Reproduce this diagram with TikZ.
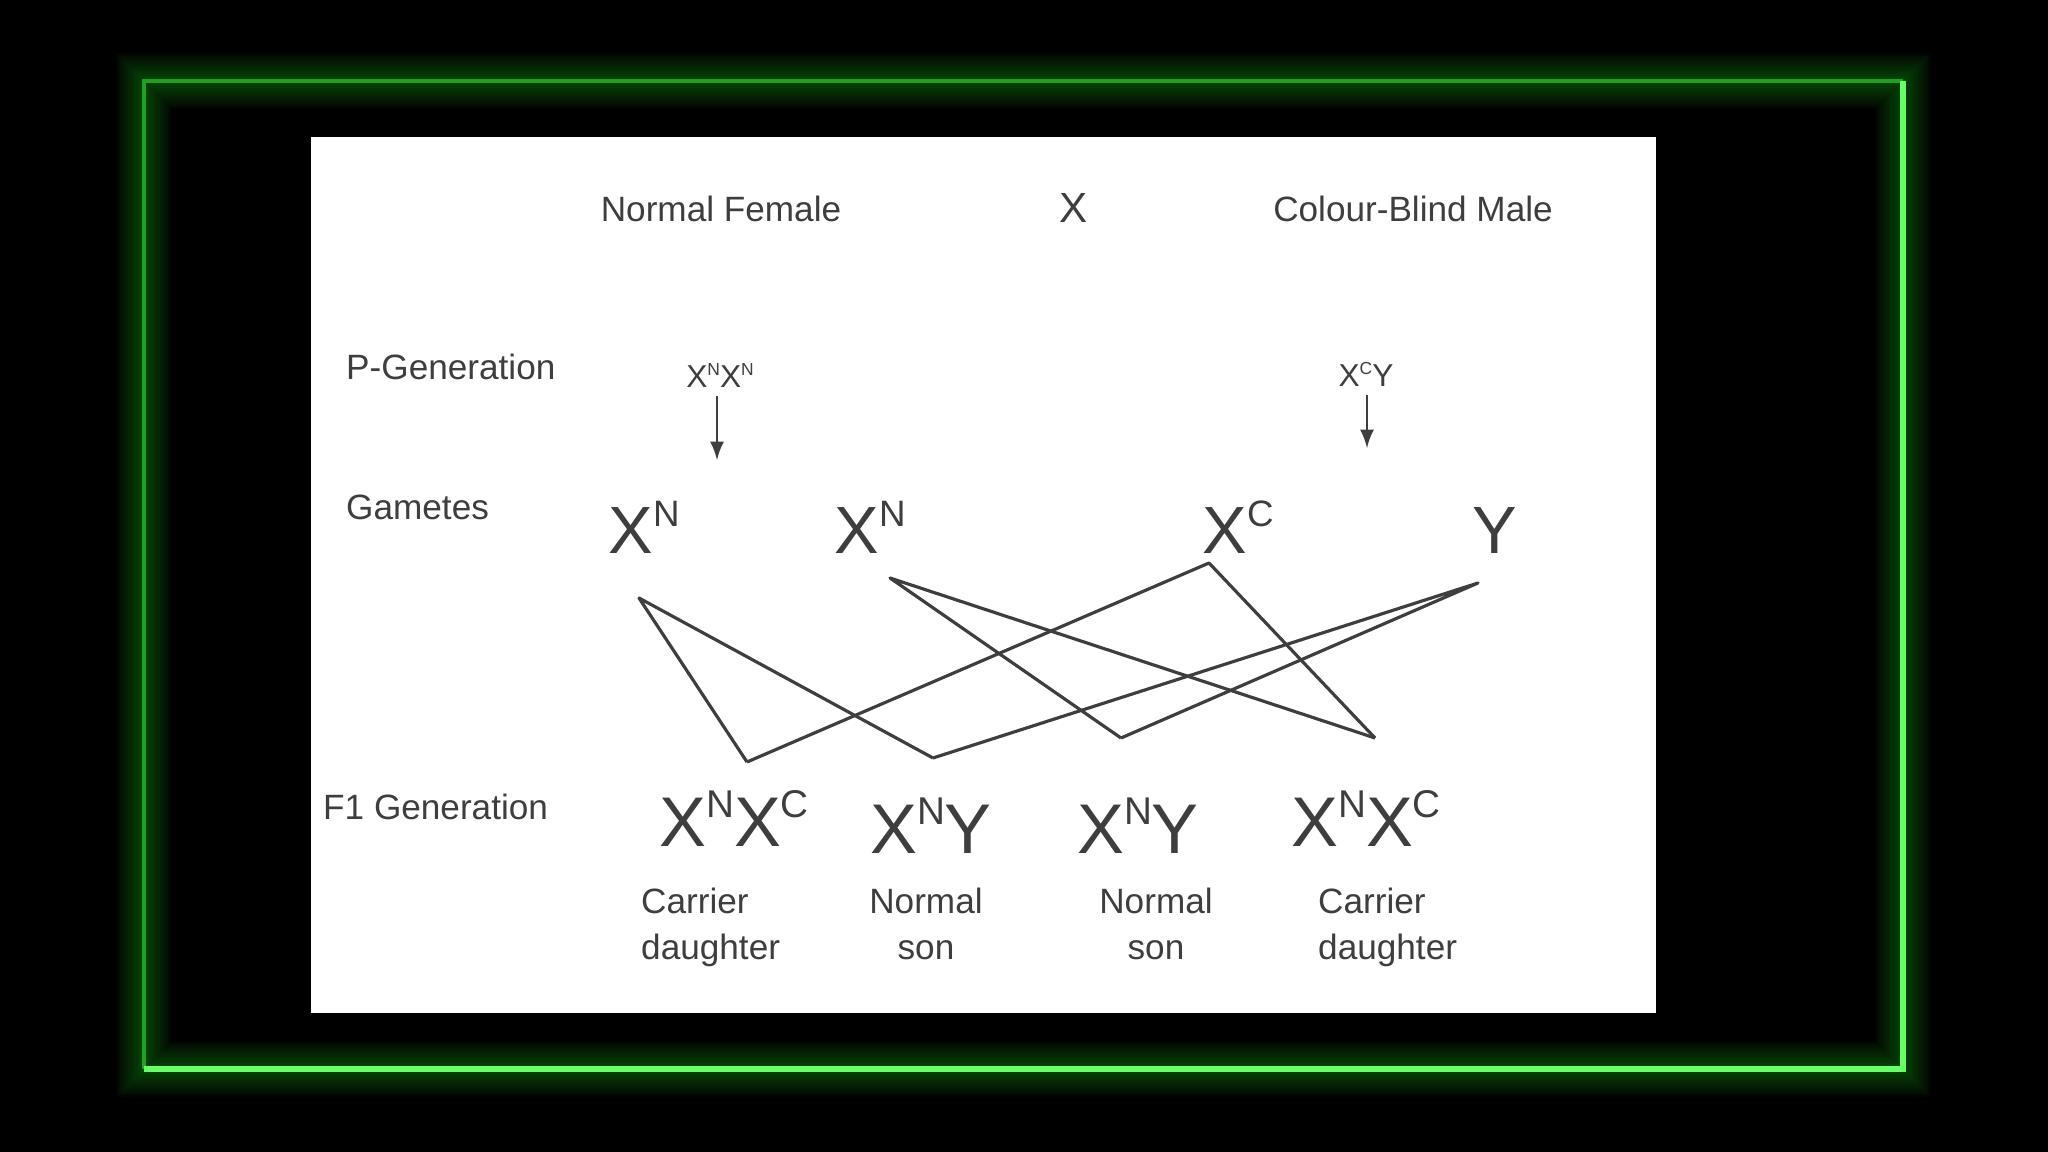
\documentclass[tikz,border=0pt]{standalone}
\usepackage{fontspec}
\setmainfont{Liberation Sans}
\usepackage{graphicx}
\usepackage{tikz}
\usetikzlibrary{positioning}
\usetikzlibrary{arrows}
\definecolor{ink}{HTML}{3E3E3E}
\definecolor{glow}{HTML}{2EE62E}
\definecolor{neon}{HTML}{66FF66}
\newcommand{\al}[2]{#1\raisebox{0.41em}{\scalebox{0.55}{#2}}}

\begin{document}
\begin{tikzpicture}[x=0.01cm,y=-0.01cm,
  lbl/.style={text=ink,font=\fontsize{10}{13}\selectfont,inner sep=1pt},
  tiny/.style={text=ink,font=\fontsize{9}{11}\selectfont,anchor=base,inner sep=2pt},
  gam/.style={text=ink,font=\fontsize{19}{22}\selectfont,anchor=base,inner sep=1pt},
  kid/.style={text=ink,font=\fontsize{20}{24}\selectfont,anchor=base,inner sep=1pt},
  cross/.style={draw=ink,line width=0.9pt,line join=round}]
\useasboundingbox (0,0) rectangle (2048,1152);
\fill[black] (0,0) rectangle (2048,1152);
% neon frame
\foreach \w in {16,15,...,2} {
\draw[glow,line width=\w pt,opacity=0.022] (144,81) rectangle (1903,1069);
}
\draw[glow!70!black,line width=1.3pt] (1903,81) -- (144,81) -- (144,1069);
\draw[neon,line width=1.5pt] (144,1069) -- (1903,1069) -- (1903,81);
\fill[white] (311,137) rectangle (1656,1013);

\node[lbl,anchor=base] (fem) at (721,222) {Normal Female};
\node[lbl,anchor=base,font=\fontsize{12}{14}\selectfont] (times) at (1074,223) {X};
\node[lbl,anchor=base] (male) at (1413,222) {Colour-Blind Male};

\node[lbl,anchor=base west] (pgen) at (342,380) {P-Generation};
\node[lbl,anchor=base west] (gtag) at (342,520) {Gametes};
\node[lbl,anchor=base west] (f1tag) at (319,819) {F1 Generation};

\node[tiny] (pf) at (720,388) {\al{X}{N}\al{X}{N}};
\node[tiny] (pm) at (1366,387) {\al{X}{C}Y};
\coordinate (pfend) at (717,460);
\coordinate (pmend) at (1367,448);
\draw[-latex,ink,line width=0.8pt] (pfend |- pf.south) -- (pfend);
\draw[-latex,ink,line width=0.8pt] (pmend |- pm.south) -- (pmend);

\node[gam] (g1) at (644,554) {\al{X}{N}};
\node[gam] (g2) at (870,554) {\al{X}{N}};
\node[gam] (g3) at (1238,554) {\al{X}{C}};
\node[gam] (g4) at (1495,554) {Y};

\coordinate (a1) at (639,598);
\coordinate (b1) at (890,578);
\coordinate (c1) at (1209,563);
\coordinate (d1) at (1478,583);
\coordinate (k1) at (747,762);
\coordinate (k2) at (933,758);
\coordinate (k3) at (1121,738);
\coordinate (k4) at (1375,738);
\draw[cross] (k1) -- (a1) -- (k2);
\draw[cross] (k3) -- (b1) -- (k4);
\draw[cross] (k1) -- (c1) -- (k4);
\draw[cross] (k2) -- (d1) -- (k3);

\node[kid] (o1) at (734,846) {\al{X}{N}\al{X}{C}};
\node[kid] (o2) at (931,853) {\al{X}{N}Y};
\node[kid] (o3) at (1138,853) {\al{X}{N}Y};
\node[kid] (o4) at (1366,846) {\al{X}{N}\al{X}{C}};

\node[lbl,align=left,anchor=north west] (t1) at (637,884) {Carrier\\daughter};
\node[lbl,align=center,anchor=north] (t2) at (926,884) {Normal\\son};
\node[lbl,align=center,anchor=north] (t3) at (1156,884) {Normal\\son};
\node[lbl,align=left,anchor=north west] (t4) at (1314,884) {Carrier\\daughter};
\end{tikzpicture}
\end{document}
